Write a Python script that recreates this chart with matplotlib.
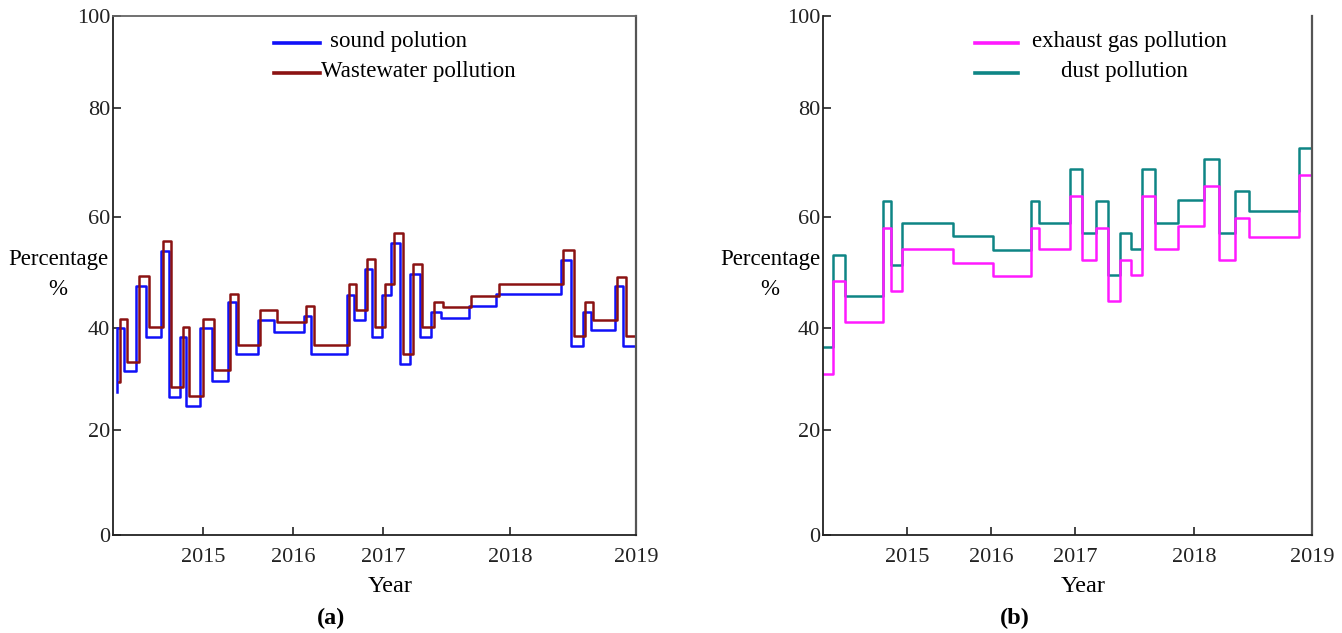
import numpy as np
import matplotlib
matplotlib.use("Agg")
import matplotlib.pyplot as plt
from matplotlib.lines import Line2D
from matplotlib.transforms import offset_copy

# ---------------- data ----------------
year_ticks = [2015, 2016, 2017, 2018, 2019]
pct_ticks = [0, 20, 40, 60, 80, 100]

# panel (a): step edges (decimal years) and step values (%)
edges_a = [2014.040, 2014.047, 2014.126, 2014.257, 2014.369, 2014.533, 2014.621,
           2014.748, 2014.813, 2014.972, 2015.100, 2015.276, 2015.362, 2015.610,
           2015.790, 2016.122, 2016.202, 2016.601, 2016.676, 2016.798, 2016.883,
           2016.991, 2017.066, 2017.135, 2017.215, 2017.290, 2017.380, 2017.455,
           2017.676, 2017.894, 2018.404, 2018.488, 2018.579, 2018.640, 2018.832,
           2018.899, 2019.0]
sound = [27.5, 40.0, 31.5, 47.6, 38.2, 53.8, 26.4, 38.2, 24.7, 40.0, 29.7, 44.6,
         34.9, 41.5, 39.3, 42.2, 34.9, 46.0, 41.5, 50.7, 38.2, 46.0, 55.3, 33.0,
         49.7, 38.2, 42.9, 41.8, 43.9, 46.2, 52.2, 36.5, 42.9, 39.6, 47.5, 36.5]
wastewater = [29.5, 41.6, 33.4, 49.4, 40.1, 55.6, 28.4, 40.1, 26.6, 41.6, 31.7, 46.2,
              36.7, 43.2, 41.1, 44.0, 36.7, 47.9, 43.2, 52.4, 40.1, 47.9, 57.1, 35.0,
              51.5, 40.1, 44.7, 43.8, 45.7, 48.0, 54.0, 38.4, 44.7, 41.5, 49.2, 38.4]

# panel (b)
edges_b = [2014.0, 2014.117, 2014.257, 2014.714, 2014.807, 2014.940, 2015.551,
           2016.020, 2016.477, 2016.573, 2016.942, 2017.053, 2017.175, 2017.274,
           2017.379, 2017.466, 2017.565, 2017.669, 2017.867, 2018.085, 2018.214,
           2018.347, 2018.466, 2018.892, 2019.0]
exhaust = [31.0, 48.4, 41.0, 58.0, 46.6, 54.3, 51.7, 49.3, 58.0, 54.3, 63.9, 52.3,
           58.1, 44.8, 52.3, 49.5, 63.9, 54.3, 58.4, 65.7, 52.3, 59.9, 56.4, 67.8]
dust = [36.3, 53.2, 45.7, 62.9, 51.3, 59.0, 56.5, 54.0, 62.9, 59.0, 68.8, 57.1,
        62.9, 49.5, 57.1, 54.3, 68.8, 59.0, 63.2, 70.6, 57.1, 64.8, 61.1, 72.6]

# ---------------- axis scales (uneven tick spacing of the original) ----------------
x_knots = [2014, 2015, 2016, 2017, 2018, 2019]
x_pos = [0.0, 0.172, 0.344, 0.516, 0.759, 1.0]
y_knots = [0, 20, 40, 60, 80, 100]
y_pos = [0.0, 0.2023, 0.3988, 0.6127, 0.8227, 1.0]

def xf(v):
    return np.interp(v, x_knots, x_pos)
def xi(v):
    return np.interp(v, x_pos, x_knots)
def yf(v):
    return np.interp(v, y_knots, y_pos)
def yi(v):
    return np.interp(v, y_pos, y_knots)

plt.rcParams['font.family'] = ['Liberation Serif', 'DejaVu Serif']

W, H = 1342, 633
fig = plt.figure(figsize=(W / 100, H / 100), dpi=100)

def px_rect(l, r, t, b):
    return [l / W, 1 - b / H, (r - l) / W, (b - t) / H]

ax1 = fig.add_axes(px_rect(113, 636, 16, 535))
ax2 = fig.add_axes(px_rect(823, 1312, 16, 535))

TICK_FS = 16

def style(ax, top_spine=True):
    ax.set_xscale('function', functions=(xf, xi))
    ax.set_yscale('function', functions=(yf, yi))
    ax.set_xlim(2014, 2019)
    ax.set_ylim(0, 100)
    ax.set_xticks(year_ticks)
    ax.set_xticklabels([str(y) for y in year_ticks])
    ax.set_yticks(pct_ticks)
    ax.set_yticklabels([str(p) for p in pct_ticks])
    ax.minorticks_off()
    ax.tick_params(axis='both', direction='in', length=6, width=1.2,
                   labelsize=TICK_FS, colors='#222222')
    ax.tick_params(axis='x', pad=9)
    ax.tick_params(axis='y', pad=2)
    for s in ['left', 'bottom']:
        ax.spines[s].set_color('#222222')
        ax.spines[s].set_linewidth(1.3)
    ax.spines['right'].set_color('#555555')
    ax.spines['right'].set_linewidth(1.6)
    ax.spines['top'].set_color('#666666')
    ax.spines['top'].set_linewidth(1.3)
    ax.spines['top'].set_visible(top_spine)

style(ax1, True)
style(ax2, False)

lw = 1.8
BLUE, DRED, TEAL, MAG = '#1010F8', '#8B1212', '#0E8585', '#FF1AFF'
ax1.step(edges_a, sound + [sound[-1]], where='post', color=BLUE, lw=lw)
ax1.step(edges_a, wastewater + [wastewater[-1]], where='post', color=DRED, lw=lw,
         transform=offset_copy(ax1.transData, fig=fig, x=2.5, y=0, units='dots'))
ax2.step(edges_b, dust + [dust[-1]], where='post', color=TEAL, lw=lw)
ax2.step(edges_b, exhaust + [exhaust[-1]], where='post', color=MAG, lw=lw)

# ---------------- legends (drawn by hand to match layout) ----------------
def fx(px):
    return px / W
def fy(py):
    return 1 - py / H

def handle(x0, x1, y, color):
    fig.add_artist(Line2D([fx(x0), fx(x1)], [fy(y), fy(y)], transform=fig.transFigure,
                          color=color, lw=2.6))

LEG_FS = 16.5
handle(274, 320, 43, BLUE)
handle(274, 320, 73, DRED)
fig.text(fx(330), fy(42), 'sound polution', fontsize=LEG_FS, ha='left', va='center')
fig.text(fx(321), fy(72), 'Wastewater pollution', fontsize=LEG_FS, ha='left', va='center')

handle(975, 1018, 43, MAG)
handle(975, 1018, 73, TEAL)
fig.text(fx(1129), fy(42), 'exhaust gas pollution', fontsize=LEG_FS, ha='center', va='center')
fig.text(fx(1124), fy(72), 'dust pollution', fontsize=LEG_FS, ha='center', va='center')

# ---------------- axis titles ----------------
for cx in (58, 770):
    fig.text(fx(cx), fy(260), 'Percentage', fontsize=16.5, ha='center', va='center')
    fig.text(fx(cx), fy(290), '%', fontsize=16.5, ha='center', va='center')
fig.text(fx(390), fy(586), 'Year', fontsize=17.5, ha='center', va='center')
fig.text(fx(1083), fy(586), 'Year', fontsize=17.5, ha='center', va='center')
fig.text(fx(331), fy(618), '(a)', fontsize=17.5, fontweight='bold', ha='center', va='center')
fig.text(fx(1015), fy(618), '(b)', fontsize=17.5, fontweight='bold', ha='center', va='center')

fig.savefig('out.png', dpi=100)
